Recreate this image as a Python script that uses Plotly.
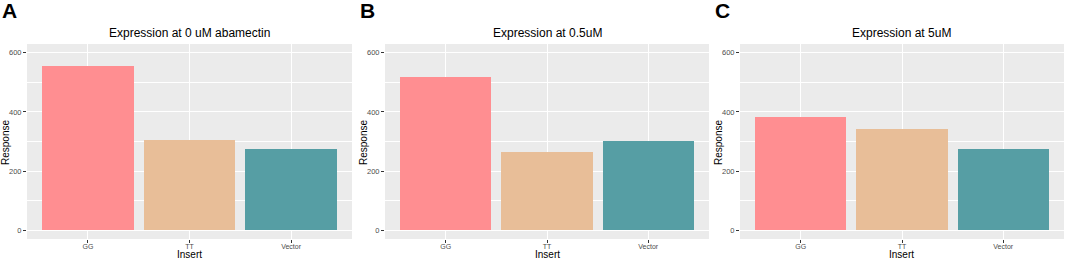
import plotly.graph_objects as go

categories = ["GG", "TT", "Vector"]
resp_0uM = [556, 304, 274]
resp_05uM = [517, 263, 302]
resp_5uM = [382, 342, 273]
bar_colors = ["#FF8E91", "#E8BE98", "#569EA4"]
titles = ["Expression at 0 uM abamectin", "Expression at 0.5uM", "Expression at 5uM"]
panel_letters = ["A", "B", "C"]
y_ticks = [0, 200, 400, 600]

W, H = 1065, 259
panels = [(27, 352), (385, 709), (740, 1064)]
y_top, y_bot = 44, 239
ydom = [(H - y_bot) / H, (H - y_top) / H]

fig = go.Figure()
data = [resp_0uM, resp_05uM, resp_5uM]
for i, vals in enumerate(data):
    xa = "x" if i == 0 else f"x{i+1}"
    ya = "y" if i == 0 else f"y{i+1}"
    fig.add_trace(go.Bar(x=categories, y=vals, width=0.9,
                         marker=dict(color=bar_colors, line=dict(width=0)),
                         xaxis=xa, yaxis=ya, showlegend=False))
    x0, x1 = panels[i]
    xkey = "xaxis" if i == 0 else f"xaxis{i+1}"
    ykey = "yaxis" if i == 0 else f"yaxis{i+1}"
    fig.layout[xkey] = dict(domain=[x0 / W, x1 / W], anchor=ya, type="category",
                            range=[-0.6, 2.6], showgrid=True, gridcolor="white", gridwidth=1,
                            ticks="outside", ticklen=3, tickcolor="#333333",
                            ticklabelstandoff=-2,
                            tickfont=dict(size=7, color="#4D4D4D", family="Liberation Sans"),
                            zeroline=False, showline=False, fixedrange=True)
    fig.layout[ykey] = dict(domain=ydom, anchor=xa, range=[-30, 630],
                            tickvals=y_ticks, showgrid=True, gridcolor="white", gridwidth=1,
                            minor=dict(dtick=100, tick0=0, showgrid=True, gridcolor="white", gridwidth=0.5),
                            ticks="outside", ticklen=3, tickcolor="#333333",
                            tickfont=dict(size=7.5, color="#4D4D4D", family="Liberation Sans"),
                            zeroline=False, showline=False, fixedrange=True)
    # axis titles
    fig.add_annotation(x=(x0 + x1) / 2 / W, y=(H - 254.5) / H, xref="paper", yref="paper",
                       text="Insert", showarrow=False, xanchor="center", yanchor="middle",
                       borderpad=0,
                       font=dict(size=10, color="black", family="Liberation Sans"))
    fig.add_annotation(x=(x0 - 22) / W, y=(H - 143) / H, xref="paper", yref="paper",
                       text="Response", showarrow=False, xanchor="center", yanchor="middle",
                       textangle=-90,
                       font=dict(size=10, color="black", family="Liberation Sans"))
    fig.add_annotation(x=(x0 + x1) / 2 / W, y=(H - 33) / H, xref="paper", yref="paper",
                       text=titles[i], showarrow=False, xanchor="center", yanchor="middle",
                       font=dict(size=12, color="black", family="Liberation Sans"))
    fig.add_annotation(x=(x0 - 26) / W, y=(H - 10.5) / H, xref="paper", yref="paper",
                       text="<b>" + panel_letters[i] + "</b>", showarrow=False,
                       xanchor="left", yanchor="middle", borderpad=0,
                       font=dict(size=21, color="black", family="Liberation Sans"))

fig.update_layout(width=W, height=H, margin=dict(l=0, r=0, t=0, b=0),
                  paper_bgcolor="white", plot_bgcolor="#EBEBEB", bargap=0)
fig.write_html("out.html", config={"displayModeBar": False},
               post_script="document.body.style.margin='0';document.body.style.overflow='hidden';")
